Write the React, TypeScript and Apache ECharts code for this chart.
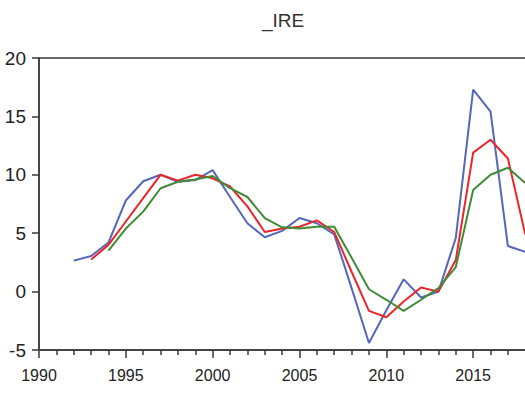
import React, { useEffect, useRef } from "react";
import * as echarts from "echarts";

const years = [
  1992, 1993, 1994, 1995, 1996, 1997, 1998, 1999, 2000, 2001, 2002, 2003, 2004, 2005,
  2006, 2007, 2008, 2009, 2010, 2011, 2012, 2013, 2014, 2015, 2016, 2017, 2018,
];
const blueValues = [
  2.65, 3.05, 4.2, 7.8, 9.45, 10.0, 9.4, 9.55, 10.4, 8.1, 5.85, 4.65, 5.2, 6.3,
  5.85, 4.9, 0.3, -4.4, -1.6, 1.05, -0.5, 0.0, 4.6, 17.3, 15.4, 3.9, 3.4,
];
const redValues = [
  null, 2.75, 4.0, 6.0, 8.0, 10.0, 9.5, 10.0, 9.7, 9.0, 7.3, 5.1, 5.4, 5.55,
  6.1, 5.1, 1.7, -1.65, -2.2, -0.85, 0.35, 0.0, 2.7, 11.9, 13.0, 11.4, 4.9,
];
const greenValues = [
  null, null, 3.5, 5.4, 6.85, 8.85, 9.4, 9.6, 9.9, 8.85, 8.1, 6.3, 5.5, 5.4,
  5.55, 5.55, 2.9, 0.2, -0.7, -1.65, -0.7, 0.3, 2.1, 8.7, 10.0, 10.6, 9.3,
];
const titleText = "_IRE";

const FONT = "'Liberation Sans', Arial, sans-serif";

function pairs(vals: (number | null)[]) {
  return years.map((y, i) => [y, vals[i]]).filter((p) => p[1] !== null);
}

export default function App() {
  const ref = useRef<HTMLDivElement>(null);
  useEffect(() => {
    document.body.style.margin = "0";
    const chart = echarts.init(ref.current!, null, { renderer: "svg" });
    const mk = (name: string, vals: (number | null)[], color: string) => ({
      name,
      type: "line",
      data: pairs(vals),
      showSymbol: false,
      symbol: "none",
      lineStyle: { color, width: 2 },
      itemStyle: { color },
      z: 3,
    });
    chart.setOption({
      animation: false,
      backgroundColor: "#ffffff",
      grid: {
        left: 39,
        top: 58,
        bottom: 44,
        right: 0,
        show: true,
        borderColor: "#3a3a3a",
        borderWidth: 1.5,
        containLabel: false,
        outerBoundsMode: "none",
      },
      graphic: [
        {
          type: "text",
          x: 283,
          y: 20,
          style: {
            text: titleText,
            font: `19px ${FONT}`,
            fill: "#333",
            textAlign: "center",
            textVerticalAlign: "middle",
          },
        },
      ],
      xAxis: {
        type: "value",
        min: 1990,
        max: 2020,
        interval: 5,
        axisLine: { show: true, onZero: false, lineStyle: { color: "#3a3a3a", width: 1.5 } },
        axisTick: { show: true, inside: false, length: 8, lineStyle: { color: "#3a3a3a", width: 1.5 } },
        minorTick: { show: true, splitNumber: 5, length: 5, lineStyle: { color: "#3a3a3a", width: 1.5 } },
        splitLine: { show: false },
        axisLabel: {
          margin: 17,
          fontSize: 16,
          fontFamily: FONT,
          color: "#222",
          showMaxLabel: false,
          formatter: (v: number) => (v >= 2020 ? "" : String(v)),
        },
      },
      yAxis: {
        type: "value",
        min: -5,
        max: 20,
        interval: 5,
        axisLine: { show: true, lineStyle: { color: "#3a3a3a", width: 1.5 } },
        axisTick: { show: true, inside: false, length: 7, lineStyle: { color: "#3a3a3a", width: 1.5 } },
        splitLine: { show: false },
        axisLabel: {
          margin: 13,
          fontSize: 19,
          fontFamily: FONT,
          color: "#222",
        },
      },
      series: [
        mk("Blue", blueValues, "#5567b9"),
        mk("Red", redValues, "#e8262b"),
        mk("Green", greenValues, "#3f8c34"),
      ],
    });
    return () => chart.dispose();
  }, []);
  return (
    <div style={{ width: 525, height: 394, overflow: "hidden", position: "relative" }}>
      <div ref={ref} style={{ width: 560, height: 394 }} />
    </div>
  );
}
